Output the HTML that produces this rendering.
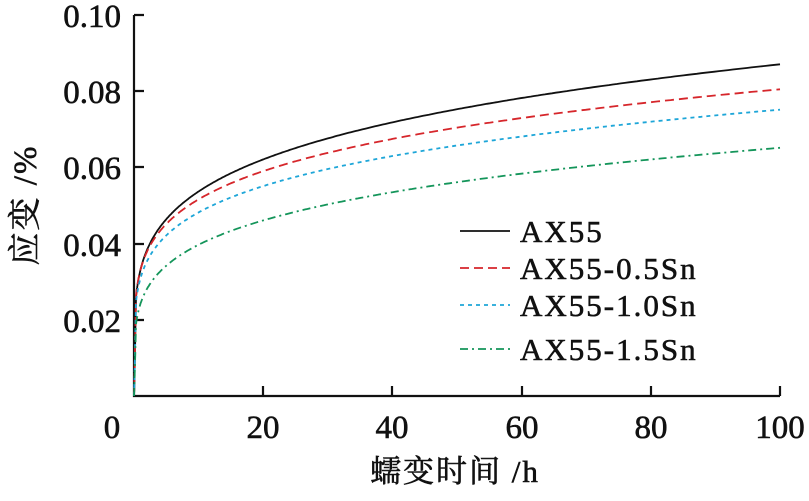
<!DOCTYPE html>
<html><head><meta charset="utf-8"><style>
body{margin:0;background:#fff}
svg text{font-family:"Liberation Serif","Noto Serif CJK SC",serif;fill:#111;stroke:#111;stroke-width:0.6}
</style></head><body>
<svg id="s" width="809" height="496" xmlns="http://www.w3.org/2000/svg">
<g stroke="#111" stroke-width="2.2" fill="none">
<path d="M134,15 V396 H780"/>
<path d="M134,15 h10 M134,91 h10 M134,167 h10 M134,244 h10 M134,320 h10"/>
<path d="M263,396 v-10 M392,396 v-10 M522,396 v-10 M651,396 v-10 M780,396 v-10"/>
</g>
<g font-size="33" text-anchor="end">
<text x="121" y="27">0.10</text><text x="121" y="103">0.08</text><text x="121" y="179">0.06</text><text x="121" y="256">0.04</text><text x="121" y="332">0.02</text>
</g>
<g font-size="33" text-anchor="middle">
<text x="112" y="438">0</text><text x="263" y="438">20</text><text x="392" y="438">40</text><text x="522" y="438">60</text><text x="651" y="438">80</text><text x="780" y="438">100</text>
</g>
<text x="455" y="482" font-size="31" text-anchor="middle" letter-spacing="2">蠕变时间 /h</text>
<text transform="translate(36,205) rotate(-90)" font-size="33" text-anchor="middle" letter-spacing="2">应变 /%</text>
<g id="curves" fill="none" stroke-width="1.8"></g>
<g stroke-width="1.8">
<line x1="460" y1="231" x2="510" y2="231" stroke="#111"/>
<line x1="460" y1="268" x2="510" y2="268" stroke="#d6262b" stroke-dasharray="9,5"/>
<line x1="460" y1="305" x2="510" y2="305" stroke="#1ea6d8" stroke-dasharray="4,4"/>
<line x1="460" y1="349" x2="510" y2="349" stroke="#14955a" stroke-dasharray="8,4,2,4"/>
</g>
<g font-size="31" letter-spacing="2">
<text x="520" y="242">AX55</text><text x="520" y="279">AX55-0.5Sn</text><text x="520" y="316">AX55-1.0Sn</text><text x="520" y="360">AX55-1.5Sn</text>
</g>
</svg>
<script>
var ser=[[0.0331,0.21,"#111",""],[0.0331,0.193,"#d6262b","9,5"],[0.0309,0.193,"#1ea6d8","4,4"],[0.0242,0.215,"#14955a","8,4,2,4"]];
var g=document.getElementById("curves");
ser.forEach(function(s){var d="M134,396";
for(var i=1;i<=400;i++){var t=Math.pow(i/400,3)*100;var e=s[0]*Math.pow(t,s[1]);if(t<0.3)e*=t/0.3;
d+=" L"+(134+t*6.46).toFixed(1)+","+(396-e*3810).toFixed(1);}
var p=document.createElementNS("http://www.w3.org/2000/svg","path");p.setAttribute("d",d);p.setAttribute("stroke",s[2]);if(s[3])p.setAttribute("stroke-dasharray",s[3]);g.appendChild(p);});
</script>
</body></html>
